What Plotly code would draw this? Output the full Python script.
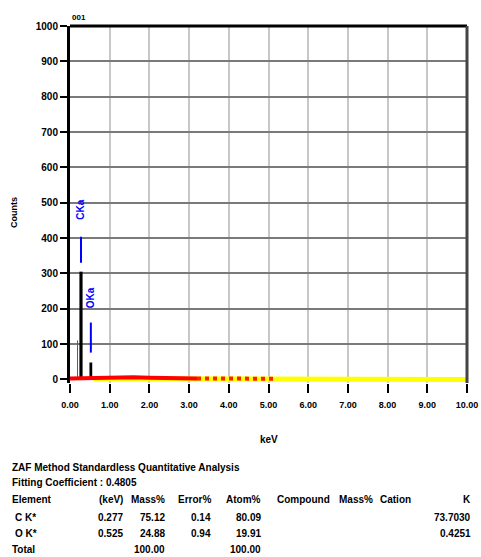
import plotly.graph_objects as go

# ---- data ----
x_tick_vals = [0, 1, 2, 3, 4, 5, 6, 7, 8, 9, 10]
y_tick_vals = [0, 100, 200, 300, 400, 500, 600, 700, 800, 900, 1000]

peak_energy = [0.19, 0.277, 0.525]
peak_counts = [110, 305, 48]
peak_width = [0.015, 0.08, 0.07]
peak_color = ["#00a000", "#000000", "#000000"]

bg_red_energy = [0.0, 0.4, 0.8, 1.2, 1.6, 2.0, 2.4, 2.8, 3.2]
bg_red_counts = [3, 4, 5, 5, 6, 5, 4, 4, 3]
bg_mix_energy = [3.2, 3.6, 4.0, 4.4, 4.8, 5.2]
bg_mix_counts = [3, 3, 3, 2, 2, 2]
bg_yel_energy = [0.6, 2.0, 4.0, 5.0, 6.0, 7.0, 8.0, 9.0, 10.0]
bg_yel_counts = [2, 2, 2, 1, 1, 1, 1, 0, 0]

line_labels = ["CKa", "OKa"]
line_energy = [0.277, 0.525]
line_mark_lo = [330, 76]
line_mark_hi = [404, 161]
line_label_y = [480, 232]

header_title = "ZAF Method Standardless Quantitative Analysis"
fit_text = "Fitting Coefficient : 0.4805"
col_names = ["(keV)", "Mass%", "Error%", "Atom%", "Compound", "Mass%", "Cation", "K"]
row_names = ["C K*", "O K*", "Total"]
row_kev = ["0.277", "0.525", ""]
row_mass = ["75.12", "24.88", "100.00"]
row_err = ["0.14", "0.94", ""]
row_atom = ["80.09", "19.91", "100.00"]
row_k = ["73.7030", "0.4251", ""]

# ---- layout geometry (pixels) ----
W, H = 481, 557
L, R, T, B = 70, 467, 26, 383


def px(x):
    return (x - L) / (R - L)


def py(y):
    return (B - y) / (B - T)


fig = go.Figure()

for e, c, w, col in zip(peak_energy, peak_counts, peak_width, peak_color):
    fig.add_trace(go.Bar(x=[e], y=[c], width=[w], marker_color=col,
                         marker_line_width=0, showlegend=False, hoverinfo="skip"))

fig.add_trace(go.Scatter(x=bg_yel_energy, y=bg_yel_counts, mode="lines",
                         line=dict(color="#ffff00", width=5), showlegend=False))
fig.add_trace(go.Scatter(x=bg_red_energy, y=bg_red_counts, mode="lines",
                         line=dict(color="#ff0000", width=4), showlegend=False))
fig.add_trace(go.Scatter(x=bg_mix_energy, y=bg_mix_counts, mode="lines",
                         line=dict(color="#ff2000", width=4, dash="dot"), showlegend=False))

for lab, e, lo, hi, ly in zip(line_labels, line_energy, line_mark_lo, line_mark_hi, line_label_y):
    fig.add_trace(go.Scatter(x=[e, e], y=[lo, hi], mode="lines",
                             line=dict(color="#0000ff", width=2), showlegend=False))
    fig.add_annotation(x=e, y=ly, xref="x", yref="y", text=lab, textangle=-90,
                       showarrow=False,
                       font=dict(family="Liberation Sans", size=10, color="#0000ff", weight="bold"))

fig.update_layout(
    width=W, height=H, autosize=False,
    margin=dict(l=L, r=W - R, t=T, b=H - B, pad=0, autoexpand=False),
    paper_bgcolor="white", plot_bgcolor="white",
    barmode="overlay",
    showlegend=False,
    xaxis=dict(range=[0, 10], tickvals=x_tick_vals, tickformat=".2f", automargin=False,
               showgrid=True, gridcolor="#c8c8c8", gridwidth=1.5,
               zeroline=False, showline=False,
               ticks="outside", ticklen=9, tickwidth=2, tickcolor="black",
               ticklabelstandoff=4,
               tickfont=dict(family="Liberation Sans", size=9, color="black", weight="bold")),
    yaxis=dict(range=[-10, 1000], tickvals=y_tick_vals, automargin=False,
               showgrid=True, gridcolor="#7a7a7a", gridwidth=1.5,
               zeroline=False, showline=True, linecolor="black", linewidth=3,
               ticks="outside", ticklen=7, tickwidth=2, tickcolor="black",
               tickfont=dict(family="Liberation Sans", size=10, color="black", weight="bold")),
)

# borders
fig.add_shape(type="line", xref="paper", yref="paper", x0=0, x1=1, y0=py(T), y1=py(T),
              line=dict(color="black", width=3))
fig.add_shape(type="line", xref="paper", yref="paper", x0=1, x1=1, y0=0, y1=1,
              line=dict(color="#444444", width=3))

bold = dict(family="Liberation Sans", size=10, color="black", weight="bold")


def txt(x, y, s, anchor="left", size=None):
    f = dict(bold)
    if size:
        f["size"] = size
    fig.add_annotation(x=px(x), y=py(y), xref="paper", yref="paper", text=s,
                       showarrow=False, xanchor=anchor, yanchor="middle", font=f)


txt(70, 17, "001", size=8)
txt(269, 440, "keV", anchor="center")
fig.add_annotation(x=px(14), y=py(213), xref="paper", yref="paper", text="Counts",
                   textangle=-90, showarrow=False, xanchor="center", yanchor="middle",
                   font=dict(family="Liberation Sans", size=9, color="black", weight="bold"))

rows_y = [517, 533, 549]
txt(10, 467, header_title)
txt(10, 483, fit_text)
txt(10, 499, "Element")
col_x = [125, 167, 213, 263, 275, 337, 378, 473]
col_anchor = ["right", "right", "right", "right", "left", "left", "left", "right"]
for name, cx, an in zip(col_names, col_x, col_anchor):
    txt(cx, 499, name, anchor=an)
for i, ry in enumerate(rows_y):
    txt(10 if row_names[i] == "Total" else 13, ry, row_names[i])
    for vals, cx in [(row_kev, 125), (row_mass, 167), (row_err, 213), (row_atom, 263), (row_k, 473)]:
        if vals[i]:
            txt(cx, ry, vals[i], anchor="right")

fig.write_html("out.html",
               config={"displayModeBar": False, "responsive": False},
               post_script="document.body.style.margin='0px';"
                           "document.body.style.overflow='hidden';"
                           "document.documentElement.style.overflow='hidden';")
